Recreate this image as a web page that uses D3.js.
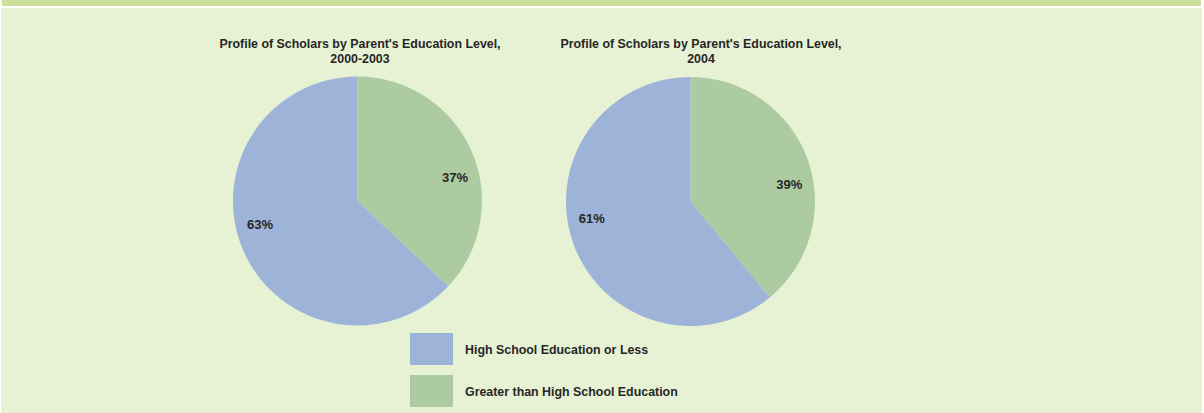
<!DOCTYPE html>
<html><head><meta charset="utf-8">
<script src="https://cdn.jsdelivr.net/npm/d3@7"></script>
<style>
html,body{margin:0;padding:0;background:#ffffff;}
svg{display:block;}
text{font-family:"Liberation Sans",Arial,sans-serif;font-weight:bold;fill:#262626;}
</style></head>
<body>
<svg id="c" width="1204" height="413"></svg>
<script>
const categories = ["Greater than High School Education", "High School Education or Less"];
const pie1Values = [37, 63];
const pie2Values = [39, 61];
const titles = [
  ["Profile of Scholars by Parent's Education Level,", "2000-2003"],
  ["Profile of Scholars by Parent's Education Level,", "2004"]
];
const legendOrder = ["High School Education or Less", "Greater than High School Education"];

const svg = d3.select("#c");
const color = d3.scaleOrdinal().domain(categories).range(["#adcba0", "#9db3d7"]);

// frame
svg.append("rect").attr("x",2).attr("y",0).attr("width",1199).attr("height",6).attr("fill","#cce09d");
svg.append("rect").attr("x",2).attr("y",9).attr("width",1199).attr("height",404).attr("fill","#e7f2d5")
  .attr("stroke","#dbe9c4").attr("stroke-width",1);

const pies = [
  {cx:357.5, cy:201, values:pie1Values, title:titles[0], tx:360},
  {cx:690.5, cy:201.5, values:pie2Values, title:titles[1], tx:701}
];
const r = 124.5;
const pieGen = d3.pie().sort(null).value(d=>d.v);
const arc = d3.arc().innerRadius(0).outerRadius(r);
const labelShift = 10 * Math.PI / 180;

pies.forEach(p=>{
  const g = svg.append("g").attr("transform",`translate(${p.cx},${p.cy})`);
  const data = pieGen(categories.map((c,i)=>({c, v:p.values[i]})));
  g.selectAll("path").data(data).enter().append("path")
    .attr("d",arc).attr("fill",d=>color(d.data.c));
  data.forEach((d,i)=>{
    const a = (d.startAngle+d.endAngle)/2 + labelShift;
    const lr = r*0.805;
    g.append("text").attr("x",Math.sin(a)*lr).attr("y",-Math.cos(a)*lr)
      .attr("text-anchor","middle").attr("dy","0.35em")
      .style("font-size","13px").text(d.data.v+"%");
  });
  const t = svg.append("text").attr("text-anchor","middle").style("font-size","12.4px");
  t.append("tspan").attr("x",p.tx).attr("y",48).text(p.title[0]);
  t.append("tspan").attr("x",p.tx).attr("y",63).text(p.title[1]);
});

const lg = svg.append("g");
legendOrder.forEach((c,i)=>{
  lg.append("rect").attr("x",410).attr("y",333+i*42).attr("width",43).attr("height",32).attr("fill",color(c));
  lg.append("text").attr("x",465).attr("y",350+i*42).attr("dy","0.35em").style("font-size","12.4px").text(c);
});
</script>
</body></html>
